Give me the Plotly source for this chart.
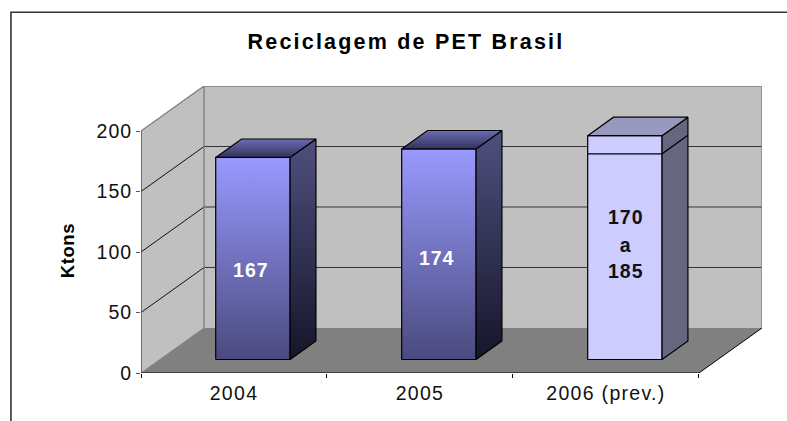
import plotly.graph_objects as go

# --- data ---
categories = ["2004", "2005", "2006 (prev.)"]
low_values = [167, 174, 170]
high_values = [167, 174, 185]
y_ticks = [0, 50, 100, 150, 200]
y_title = "Ktons"
title_text = "Reciclagem de PET Brasil"
label_texts = [["167"], ["174"], ["170", "a", "185"]]
label_x_shift = [-0.011, -0.012, 0.005]
label_values = [[83.4], [93.3], [127.4, 104, 82.5]]
label_colors = ["white", "white", "#111111"]

# --- oblique projection, in axis units ---
DEPTH_X = 0.339   # categories per full floor depth
DEPTH_Y = 37.2    # Ktons per full floor depth
BAR_MARGIN = 0.30
BAR_W = 0.40
BAR_D0 = 0.30
BAR_D1 = 0.71
Y_MAX = 200
N = len(categories)


def P(x, v, d):
    return x + d * DEPTH_X, v + d * DEPTH_Y


def poly(points):
    xs, ys = zip(*(P(*p) for p in points))
    return list(xs) + [xs[0]], list(ys) + [ys[0]]


fig = go.Figure()


def face(points, color=None, line="rgba(0,0,0,0)", width=0, grad=None):
    xs, ys = poly(points)
    kw = {}
    if grad:
        kw["fillgradient"] = dict(type="vertical", colorscale=[[0, grad[0]], [1, grad[1]]])
    else:
        kw["fillcolor"] = color
    fig.add_trace(go.Scatter(x=xs, y=ys, mode="lines", fill="toself",
                             line=dict(color=line, width=width),
                             hoverinfo="skip", showlegend=False, **kw))


def seg(points, color, width=1.0):
    xs, ys = zip(*(P(*p) for p in points))
    fig.add_trace(go.Scatter(x=xs, y=ys, mode="lines", line=dict(color=color, width=width),
                             hoverinfo="skip", showlegend=False))


# walls and floor
face([(0, 0, 1), (N, 0, 1), (N, Y_MAX, 1), (0, Y_MAX, 1)], "#C0C0C0")
face([(0, 0, 0), (0, 0, 1), (0, Y_MAX, 1), (0, Y_MAX, 0)], "#C0C0C0")
face([(0, 0, 0), (N, 0, 0), (N, 0, 1), (0, 0, 1)], "#808080")

# gridlines
for t in y_ticks[1:-1]:
    seg([(0, t, 0), (0, t, 1)], "#111111", 1)
    seg([(0, t, 1), (N, t, 1)], "#333333", 1)
# wall edges
seg([(0, Y_MAX, 0), (0, Y_MAX, 1), (N, Y_MAX, 1), (N, 0, 1)], "#808080", 1.4)
seg([(0, 0, 1), (0, Y_MAX, 1)], "#808080", 1.4)
seg([(0, 0, 0), (0, 0, 1)], "#808080", 1)
seg([(N, 0, 0), (N, 0, 1)], "#000000", 1)
# axis lines
seg([(0, 0, 0), (0, Y_MAX, 0)], "#595959", 1.6)
seg([(0, 0, 0), (N, 0, 0)], "#000000", 1.2)

# bars
for i, (lo, hi) in enumerate(zip(low_values, high_values)):
    x0 = i + BAR_MARGIN
    x1 = x0 + BAR_W
    forecast = hi != lo
    front = ("#CCCCFF", "#CCCCFF") if forecast else ("#4A4A7E", "#9999FF")
    side = ("#66667F", "#66667F") if forecast else ("#15152A", "#50507F")
    top = ("#9999BF", "#9999BF") if forecast else ("#33335A", "#6C6CB4")
    face([(x0, 0, BAR_D0), (x1, 0, BAR_D0), (x1, hi, BAR_D0), (x0, hi, BAR_D0)],
         line="#000000", width=1.2, grad=front)
    face([(x1, 0, BAR_D0), (x1, 0, BAR_D1), (x1, hi, BAR_D1), (x1, hi, BAR_D0)],
         line="#000000", width=1.2, grad=side)
    face([(x0, hi, BAR_D0), (x1, hi, BAR_D0), (x1, hi, BAR_D1), (x0, hi, BAR_D1)],
         line="#000000", width=1.2, grad=top)
    if forecast:
        seg([(x0, lo, BAR_D0), (x1, lo, BAR_D0), (x1, lo, BAR_D1)], "#000000", 1.2)

# labels inside the bars
for i, (texts, vals) in enumerate(zip(label_texts, label_values)):
    xc = i + BAR_MARGIN + BAR_W / 2 + BAR_D0 * DEPTH_X + label_x_shift[i]
    fig.add_trace(go.Scatter(x=[xc] * len(vals), y=vals, text=texts, mode="text",
                             textposition="middle center",
                             textfont=dict(family="Liberation Sans", size=19.5,
                                           color=label_colors[i], weight="bold"),
                             hoverinfo="skip", showlegend=False, cliponaxis=False))

W, H = 787, 421
L, R, T, B = 141, 25.3, 85.7, 48.3
PW, PH = W - L - R, H - T - B
frame = "#333333"
fx = (11 - L) / PW
fy_top = (H - B - 12) / PH
fy_bot = (H - B - (H + 10)) / PH
fig.update_layout(
    width=W, height=H, autosize=False,
    margin=dict(l=L, r=R, t=T, b=B, pad=0),
    paper_bgcolor="white", plot_bgcolor="rgba(0,0,0,0)",
    showlegend=False,
    font=dict(family="Liberation Sans", color="#111111"),
    title=dict(text=f"<b>{title_text}</b>", x=406 / W, xanchor="center",
               y=1 - 41.5 / H, yanchor="middle",
               font=dict(family="Liberation Sans", size=21.5, color="#000000")),
    xaxis=dict(range=[0, N + DEPTH_X], tickmode="array",
               tickvals=[i + 0.5 for i in range(N)], ticktext=categories,
               ticks="", showgrid=False, zeroline=False, showline=False,
               ticklabelstandoff=6,
               tickfont=dict(size=19.5, family="Liberation Sans", color="#111111"),
               minor=dict(tickvals=list(range(N + 1)), ticks="outside", ticklen=4,
                          tickcolor="#000000", tickwidth=1, showgrid=False),
               fixedrange=True),
    yaxis=dict(range=[0, Y_MAX + DEPTH_Y], tickmode="array",
               tickvals=y_ticks, ticks="outside", ticklen=4, tickcolor="#595959",
               tickwidth=1, showgrid=False, zeroline=False, showline=False,
               tickfont=dict(size=19.5, family="Liberation Sans", color="#111111"),
               fixedrange=True),
    annotations=[dict(text=f"<b>{y_title}</b>", xref="paper", yref="paper",
                      x=(68 - L) / PW, y=(H - B - 250.5) / PH, textangle=-90, showarrow=False,
                      xanchor="center", yanchor="middle",
                      font=dict(family="Liberation Sans", size=18.5, color="#000000"))],
    shapes=[dict(type="path", xref="paper", yref="paper",
                 path=f"M {fx} {fy_bot} L {fx} {fy_top} L {(W + 10 - L) / PW} {fy_top}",
                 line=dict(color=frame, width=1.6))],
)

css = (".xtick text{letter-spacing:1.3px}"
       ".ytick text{letter-spacing:1px}"
       ".gtitle{letter-spacing:2.2px}"
       ".annotation-text{letter-spacing:0.6px}"
       ".textpoint text{letter-spacing:1px}")
post = ("document.body.style.margin='0';document.body.style.overflow='hidden';"
        "var s=document.createElement('style');s.textContent='" + css + "';"
        "document.head.appendChild(s);")
fig.write_html("out.html", post_script=post, config={"displayModeBar": False})
